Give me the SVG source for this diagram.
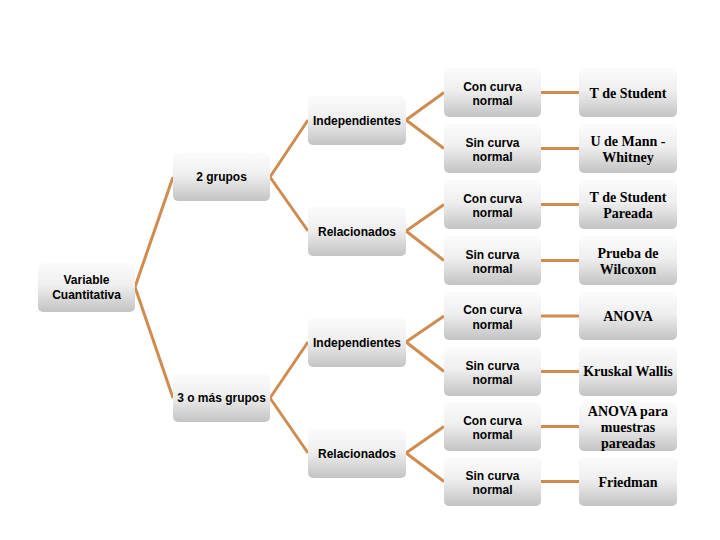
<svg xmlns="http://www.w3.org/2000/svg" width="720" height="540" viewBox="0 0 720 540">
<defs>
<linearGradient id="g" x1="0" y1="0" x2="0" y2="1">
<stop offset="0" stop-color="#fbfbfb"/>
<stop offset="0.45" stop-color="#efefef"/>
<stop offset="1" stop-color="#c3c3c3"/>
</linearGradient>
</defs>
<style>
.box{fill:url(#g);}
.s{font-family:"Liberation Sans",Arial,sans-serif;font-weight:bold;font-size:12px;fill:#000;text-anchor:middle;}
.r{font-family:"Liberation Serif","Times New Roman",serif;font-weight:bold;font-size:14px;fill:#000;text-anchor:middle;}
.c{stroke:#d08c4e;stroke-width:3;fill:none;}
</style>
<rect width="720" height="540" fill="#fff"/>
<g id="connectors" class="c">
<path d="M135,287 L173,177 M135,287 L173,398"/>
<path d="M270,177 L308,120 M270,177 L308,231"/>
<path d="M270,398 L308,342 M270,398 L308,453"/>
<path d="M406,120 L444,92.5 M406,120 L444,148.5"/>
<path d="M406,231 L444,204.5 M406,231 L444,260.5"/>
<path d="M406,342 L444,316 M406,342 L444,371.5"/>
<path d="M406,453 L444,426.5 M406,453 L444,481.5"/>
<path d="M541,92.5 H579 M541,148.5 H579 M541,204.5 H579 M541,260.5 H579 M541,316 H579 M541,371.5 H579 M541,426.5 H579 M541,481.5 H579"/>
</g>
<g id="n-variable"><rect class="box" x="38" y="263" width="97" height="49" rx="5"/><text class="s" x="86.5" y="284">Variable</text><text class="s" x="86.5" y="299">Cuantitativa</text></g>
<g id="n-2grupos"><rect class="box" x="173" y="153" width="97" height="48" rx="5"/><text class="s" x="221.5" y="181">2 grupos</text></g>
<g id="n-3grupos"><rect class="box" x="173" y="374" width="97" height="48" rx="5"/><text class="s" x="221.5" y="402">3 o más grupos</text></g>
<g id="n-ind1"><rect class="box" x="308" y="96" width="98" height="49" rx="5"/><text class="s" x="357" y="124.5">Independientes</text></g>
<g id="n-rel1"><rect class="box" x="308" y="207" width="98" height="49" rx="5"/><text class="s" x="357" y="235.5">Relacionados</text></g>
<g id="n-ind2"><rect class="box" x="308" y="318" width="98" height="49" rx="5"/><text class="s" x="357" y="346.5">Independientes</text></g>
<g id="n-rel2"><rect class="box" x="308" y="429" width="98" height="49" rx="5"/><text class="s" x="357" y="457.5">Relacionados</text></g>
<g id="n-c1"><rect class="box" x="444" y="68" width="97" height="49" rx="5"/><text class="s" x="492.5" y="90.5">Con curva</text><text class="s" x="492.5" y="105">normal</text></g>
<g id="n-c2"><rect class="box" x="444" y="124" width="97" height="49" rx="5"/><text class="s" x="492.5" y="146.5">Sin curva</text><text class="s" x="492.5" y="161">normal</text></g>
<g id="n-c3"><rect class="box" x="444" y="180" width="97" height="49" rx="5"/><text class="s" x="492.5" y="202.5">Con curva</text><text class="s" x="492.5" y="217">normal</text></g>
<g id="n-c4"><rect class="box" x="444" y="236" width="97" height="49" rx="5"/><text class="s" x="492.5" y="258.5">Sin curva</text><text class="s" x="492.5" y="273">normal</text></g>
<g id="n-c5"><rect class="box" x="444" y="292" width="97" height="48" rx="5"/><text class="s" x="492.5" y="314">Con curva</text><text class="s" x="492.5" y="328.5">normal</text></g>
<g id="n-c6"><rect class="box" x="444" y="347" width="97" height="49" rx="5"/><text class="s" x="492.5" y="369.5">Sin curva</text><text class="s" x="492.5" y="384">normal</text></g>
<g id="n-c7"><rect class="box" x="444" y="402" width="97" height="49" rx="5"/><text class="s" x="492.5" y="424.5">Con curva</text><text class="s" x="492.5" y="439">normal</text></g>
<g id="n-c8"><rect class="box" x="444" y="457" width="97" height="49" rx="5"/><text class="s" x="492.5" y="479.5">Sin curva</text><text class="s" x="492.5" y="494">normal</text></g>
<g id="n-r1"><rect class="box" x="579" y="68" width="98" height="49" rx="5"/><text class="r" x="628" y="97.5">T de Student</text></g>
<g id="n-r2"><rect class="box" x="579" y="124" width="98" height="49" rx="5"/><text class="r" x="628" y="146">U de Mann -</text><text class="r" x="628" y="161.5">Whitney</text></g>
<g id="n-r3"><rect class="box" x="579" y="180" width="98" height="49" rx="5"/><text class="r" x="628" y="202">T de Student</text><text class="r" x="628" y="217.5">Pareada</text></g>
<g id="n-r4"><rect class="box" x="579" y="236" width="98" height="49" rx="5"/><text class="r" x="628" y="258">Prueba de</text><text class="r" x="628" y="273.5">Wilcoxon</text></g>
<g id="n-r5"><rect class="box" x="579" y="292" width="98" height="48" rx="5"/><text class="r" x="628" y="320.5">ANOVA</text></g>
<g id="n-r6"><rect class="box" x="579" y="347" width="98" height="49" rx="5"/><text class="r" x="628" y="376">Kruskal Wallis</text></g>
<g id="n-r7"><rect class="box" x="579" y="402" width="98" height="49" rx="5"/><text class="r" x="628" y="415.5">ANOVA para</text><text class="r" x="628" y="431.5">muestras</text><text class="r" x="628" y="447.5">pareadas</text></g>
<g id="n-r8"><rect class="box" x="579" y="457" width="98" height="49" rx="5"/><text class="r" x="628" y="486.5">Friedman</text></g>
</svg>
